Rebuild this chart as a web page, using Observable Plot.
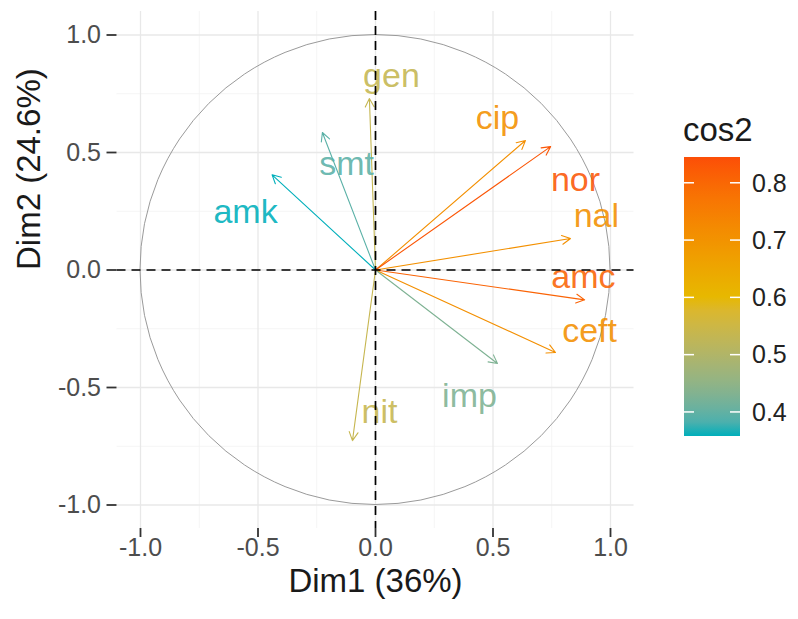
<!DOCTYPE html>
<html>
<head>
<meta charset="utf-8">
<script src="https://cdn.jsdelivr.net/npm/d3@7"></script>
<script src="https://cdn.jsdelivr.net/npm/@observablehq/plot@0.6"></script>
<style>
  html, body { margin: 0; padding: 0; background: white; }
  #wrap { position: relative; width: 798px; height: 619px; font-family: "Liberation Sans", Arial, sans-serif; }
  #legend { position: absolute; left: 0; top: 0; }
</style>
</head>
<body>
<div id="wrap"></div>
<script>
// ---- data ----
const variables = ["gen", "smt", "amk", "nit", "cip", "nor", "nal", "amc", "ceft", "imp"];
const dim1 = [-0.026, -0.226, -0.44, -0.098, 0.638, 0.745, 0.83, 0.89, 0.766, 0.519];
const dim2 = [0.73, 0.585, 0.405, -0.726, 0.551, 0.525, 0.134, -0.127, -0.351, -0.398];
const cos2 = [0.534, 0.393, 0.358, 0.537, 0.711, 0.831, 0.707, 0.808, 0.710, 0.428];
// label positions (data units, as placed in the picture)
const labelX = [0.068, -0.123, -0.553, 0.017, 0.519, 0.851, 0.94, 0.885, 0.911, 0.40];
const labelY = [0.823, 0.449, 0.245, -0.606, 0.645, 0.381, 0.23, -0.032, -0.261, -0.538];
const majorTicks = [-1.0, -0.5, 0.0, 0.5, 1.0];
const minorTicks = [-0.75, -0.25, 0.25, 0.75];
const legendTicks = [0.4, 0.5, 0.6, 0.7, 0.8];
const cos2Limits = [0.358, 0.845];
const gradientColors = ["#00AFBB", "#E7B800", "#FC4E07"];
const xTitle = "Dim1 (36%)";
const yTitle = "Dim2 (24.6%)";
const legendTitle = "cos2";

const rows = variables.map((v, i) => ({name: v, x: dim1[i], y: dim2[i], cos2: cos2[i], lx: labelX[i], ly: labelY[i]}));
const mid = (cos2Limits[0] + cos2Limits[1]) / 2;
const colorDomain = [cos2Limits[0], mid, cos2Limits[1]];

const font = "Liberation Sans, Arial, sans-serif";

const unitCircle = (index, scales) => {
  const cx = scales.x(0), cy = scales.y(0);
  return d3.create("svg:circle")
    .attr("cx", cx).attr("cy", cy)
    .attr("r", scales.x(1) - cx)
    .attr("fill", "none").attr("stroke", "#9a9a9a").attr("stroke-width", 1)
    .node();
};

const plot = Plot.plot({
  width: 798,
  height: 619,
  marginLeft: 116.5,
  marginRight: 164.5,
  marginTop: 11,
  marginBottom: 91,
  style: {fontFamily: font, background: "white"},
  x: {domain: [-1.1, 1.1], axis: null},
  y: {domain: [-1.1, 1.1], axis: null},
  color: {type: "linear", domain: colorDomain, range: gradientColors, interpolate: "lab"},
  marks: [
    Plot.gridX(minorTicks, {stroke: "#F2F2F2", strokeOpacity: 1, strokeWidth: 0.8}),
    Plot.gridY(minorTicks, {stroke: "#F2F2F2", strokeOpacity: 1, strokeWidth: 0.8}),
    Plot.gridX(majorTicks, {stroke: "#E8E8E8", strokeOpacity: 1, strokeWidth: 1.3}),
    Plot.gridY(majorTicks, {stroke: "#E8E8E8", strokeOpacity: 1, strokeWidth: 1.3}),
    unitCircle,
    Plot.arrow(rows, {x1: d => 0, y1: d => 0, x2: "x", y2: "y", stroke: "cos2", strokeWidth: 1.1, headLength: 13, headAngle: 55}),
    Plot.text(rows, {x: "lx", y: "ly", text: "name", fill: "cos2", fontSize: 34, fillOpacity: 0.9}),
    Plot.ruleX([0], {stroke: "black", strokeWidth: 1.7, strokeDasharray: "9,6"}),
    Plot.ruleY([0], {stroke: "black", strokeWidth: 1.7, strokeDasharray: "9,6"}),
    Plot.axisX(majorTicks, {tickSize: 9, tickPadding: 1, fontSize: 25, stroke: "#333333", strokeWidth: 1.8, fill: "#4D4D4D", tickFormat: d => d.toFixed(1), label: null}),
    Plot.axisY(majorTicks, {tickSize: 10, tickPadding: 6, fontSize: 25, stroke: "#333333", strokeWidth: 1.8, fill: "#4D4D4D", tickFormat: d => d.toFixed(1), label: null}),
    Plot.text([xTitle], {frameAnchor: "bottom", dy: 63, fontSize: 33, fill: "#1a1a1a"}),
    Plot.text([yTitle], {frameAnchor: "left", dx: -88, rotate: -90, fontSize: 33, fill: "#1a1a1a"})
  ]
});

const wrap = document.getElementById("wrap");
wrap.appendChild(plot);

// ---- vertical colour bar legend ----
const color = d3.scaleLinear().domain(colorDomain).range(gradientColors).interpolate(d3.interpolateLab);
const barX = 684, barW = 56, barTop = 157, barBottom = 436;
const ly = d3.scaleLinear().domain(cos2Limits).range([barBottom, barTop]);

const leg = d3.create("svg").attr("id", "legend").attr("width", 798).attr("height", 619)
  .style("font-family", font);
const grad = leg.append("defs").append("linearGradient")
  .attr("id", "cos2grad").attr("x1", 0).attr("y1", 1).attr("x2", 0).attr("y2", 0);
d3.range(0, 21).map(k => k / 20).forEach(t => {
  const v = cos2Limits[0] + t * (cos2Limits[1] - cos2Limits[0]);
  grad.append("stop").attr("offset", t).attr("stop-color", color(v));
});
leg.append("text").attr("x", 683).attr("y", 141).attr("font-size", 33).attr("fill", "#1a1a1a").text(legendTitle);
leg.append("rect").attr("x", barX).attr("y", barTop).attr("width", barW).attr("height", barBottom - barTop)
  .attr("fill", "url(#cos2grad)");
legendTicks.forEach(v => {
  const y = ly(v);
  leg.append("line").attr("x1", barX).attr("x2", barX + 10).attr("y1", y).attr("y2", y).attr("stroke", "white").attr("stroke-width", 1.5);
  leg.append("line").attr("x1", barX + barW - 10).attr("x2", barX + barW).attr("y1", y).attr("y2", y).attr("stroke", "white").attr("stroke-width", 1.5);
  leg.append("text").attr("x", 752).attr("y", y).attr("dy", "0.35em").attr("font-size", 25).attr("fill", "#222")
    .text(v.toFixed(1));
});
wrap.appendChild(leg.node());
</script>
</body>
</html>
